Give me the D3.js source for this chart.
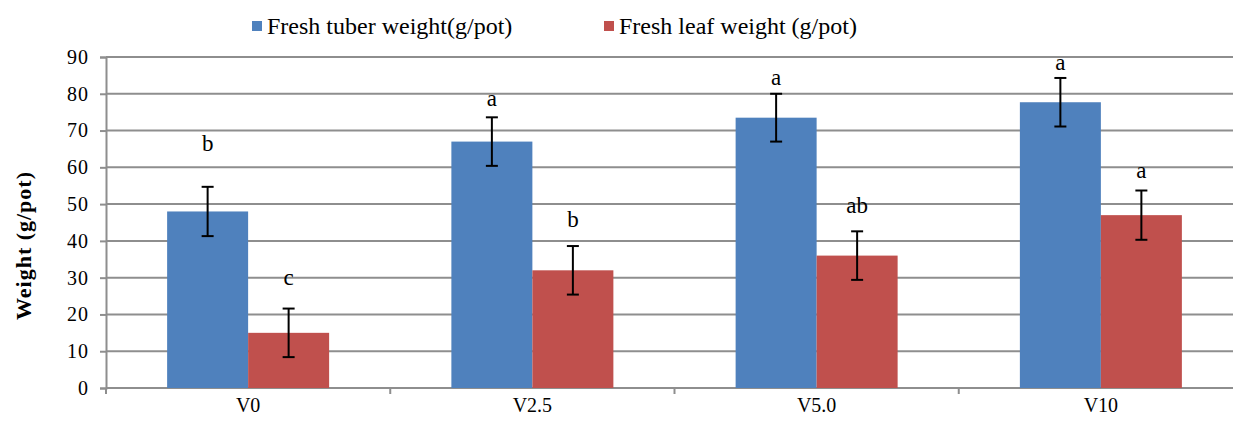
<!DOCTYPE html>
<html>
<head>
<meta charset="utf-8">
<script src="https://cdn.jsdelivr.net/npm/d3@7"></script>
<style>
  body { margin: 0; background: #fff; }
  svg { display: block; }
  svg text { font-family: "Liberation Serif", "Times New Roman", Times, "DejaVu Serif", serif; fill: #000; }
</style>
</head>
<body>
<div id="chart"></div>
<script>
  // chart data
  const categories = ['V0', 'V2.5', 'V5.0', 'V10'];
  const seriesNames = ['Fresh tuber weight(g/pot)', 'Fresh leaf weight (g/pot)'];
  const tuber = [48, 67, 73.5, 77.7];
  const tuberErr = [6.7, 6.6, 6.5, 6.6];
  const leaf = [15, 32, 36, 47];
  const leafErr = [6.6, 6.6, 6.6, 6.7];
  const tuberLetters = ['b', 'a', 'a', 'a'];
  const leafLetters = ['c', 'b', 'ab', 'a'];
  // height of the letters, in axis units
  const tuberLetterAt = [66.5, 79, 84.7, 88.6];
  const leafLetterAt = [30.1, 46.1, 49.9, 59.2];
  const yTicks = [0, 10, 20, 30, 40, 50, 60, 70, 80, 90];
  const colors = ['#4F81BD', '#C0504D'];

  const W = 1233, H = 421;
  const mLeft = 106, mTop = 57, mBottom = 388, mRight = 1243;

  const svg = d3.select('#chart').append('svg')
    .attr('width', W)
    .attr('height', H);

  const x = d3.scaleBand()
    .domain(categories)
    .range([mLeft, mRight]);

  const y = d3.scaleLinear()
    .domain([0, 90])
    .range([mBottom, mTop]);

  const barW = 81;

  // gridlines
  svg.append('g')
    .selectAll('line')
    .data(yTicks)
    .enter()
    .append('line')
    .attr('x1', mLeft)
    .attr('x2', W)
    .attr('y1', d => y(d))
    .attr('y2', d => y(d))
    .attr('stroke', '#8e8e8e')
    .attr('stroke-width', 2);

  // y axis
  const yAxis = svg.append('g')
    .attr('transform', `translate(${mLeft},0)`)
    .call(d3.axisLeft(y).tickValues(yTicks).tickSize(6).tickPadding(12));
  yAxis.attr('font-family', null);
  yAxis.select('.domain').attr('stroke', '#8e8e8e').attr('stroke-width', 2);
  yAxis.selectAll('.tick line').attr('stroke', '#8e8e8e').attr('stroke-width', 2);
  yAxis.selectAll('.tick text')
    .attr('font-size', 20)
    .attr('textLength', d => String(d).length * 10.5);

  // x axis
  const xAxis = svg.append('g')
    .attr('transform', `translate(0,${mBottom})`)
    .call(d3.axisBottom(x).tickSize(0).tickPadding(10));
  xAxis.attr('font-family', null);
  xAxis.select('.domain').remove();
  xAxis.selectAll('.tick text')
    .attr('font-size', 20);

  svg.append('line')
    .attr('x1', mLeft).attr('x2', W)
    .attr('y1', mBottom).attr('y2', mBottom)
    .attr('stroke', '#8e8e8e').attr('stroke-width', 2);

  // category separators
  svg.append('g')
    .selectAll('line')
    .data(categories)
    .enter()
    .append('line')
    .attr('x1', d => x(d))
    .attr('x2', d => x(d))
    .attr('y1', mBottom)
    .attr('y2', mBottom + 6)
    .attr('stroke', '#8e8e8e')
    .attr('stroke-width', 2);

  const series = [
    { vals: tuber, err: tuberErr, letters: tuberLetters, at: tuberLetterAt, off: -barW },
    { vals: leaf, err: leafErr, letters: leafLetters, at: leafLetterAt, off: 0 }
  ];

  series.forEach((s, si) => {
    const g = svg.append('g');
    const cx = (i) => x(categories[i]) + x.bandwidth() / 2 + s.off;

    g.selectAll('rect')
      .data(s.vals)
      .enter()
      .append('rect')
      .attr('x', (d, i) => cx(i))
      .attr('y', d => y(d))
      .attr('width', barW)
      .attr('height', d => mBottom - y(d))
      .attr('fill', colors[si]);

    // error bars
    s.vals.forEach((v, i) => {
      const mx = cx(i) + barW / 2;
      const hi = y(v + s.err[i]), lo = y(v - s.err[i]);
      g.append('line').attr('x1', mx).attr('x2', mx).attr('y1', hi).attr('y2', lo)
        .attr('stroke', '#000').attr('stroke-width', 2);
      [hi, lo].forEach(yy => {
        g.append('line').attr('x1', mx - 6).attr('x2', mx + 6).attr('y1', yy).attr('y2', yy)
          .attr('stroke', '#000').attr('stroke-width', 2);
      });
    });

    // significance letters
    g.selectAll('text')
      .data(s.letters)
      .enter()
      .append('text')
      .attr('x', (d, i) => cx(i) + barW / 2)
      .attr('y', (d, i) => y(s.at[i]))
      .attr('dy', '0.35em')
      .attr('text-anchor', 'middle')
      .attr('font-size', 23)
      .text(d => d);
  });

  // y title
  svg.append('text')
    .attr('transform', 'translate(31,246) rotate(-90)')
    .attr('text-anchor', 'middle')
    .attr('font-size', 22)
    .attr('font-weight', 'bold')
    .attr('textLength', 148)
    .text('Weight (g/pot)');

  // legend
  const legendX = [252, 604];
  seriesNames.forEach((name, i) => {
    svg.append('rect')
      .attr('x', legendX[i]).attr('y', 21)
      .attr('width', 10).attr('height', 10)
      .attr('fill', colors[i]);
    svg.append('text')
      .attr('x', legendX[i] + 15)
      .attr('y', 34)
      .attr('font-size', 24)
      .text(name);
  });
</script>
</body>
</html>
